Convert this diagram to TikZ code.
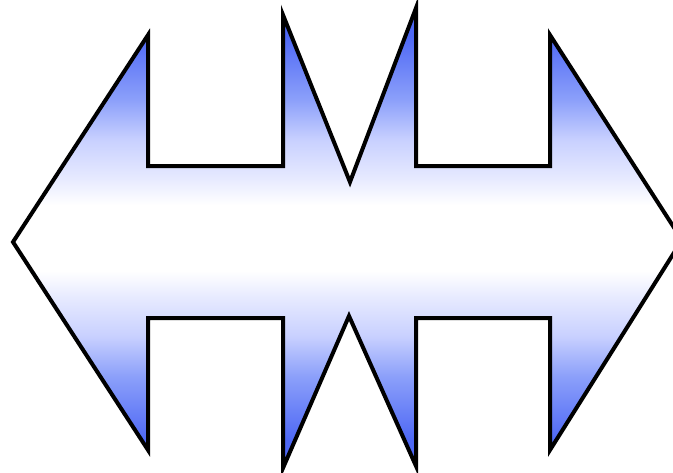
\documentclass[tikz,border=0pt]{standalone}
\definecolor{cA}{RGB}{78,104,245}
\definecolor{cB}{RGB}{140,160,250}
\definecolor{cC}{RGB}{200,208,255}
\definecolor{cD}{RGB}{232,235,255}
\pgfdeclareverticalshading{arrsh}{100bp}{color(0bp)=(cA); color(28bp)=(cA); color(35bp)=(cB); color(39.3bp)=(cC); color(43.7bp)=(cD); color(46.4bp)=(white); color(53.6bp)=(white); color(56.3bp)=(cD); color(60.7bp)=(cC); color(65bp)=(cB); color(72bp)=(cA); color(100bp)=(cA)}
\begin{document}
\begin{tikzpicture}[x=1pt,y=-1pt]
\useasboundingbox (0,0) rectangle (673,472);
\clip (0,0) rectangle (673,472);
\path[shading=arrsh, draw=black, line width=4pt, line join=miter]
(13,242) -- (148,35) -- (148,166) -- (283,166) -- (283,15) -- (350,182) -- (416,8) -- (416,166) -- (550,166) -- (550,35) -- (682,240) -- (550,450) -- (550,318) -- (416,318) -- (416,466) -- (349,316) -- (283,468) -- (283,318) -- (148,318) -- (148,450) -- cycle;
\end{tikzpicture}
\end{document}
